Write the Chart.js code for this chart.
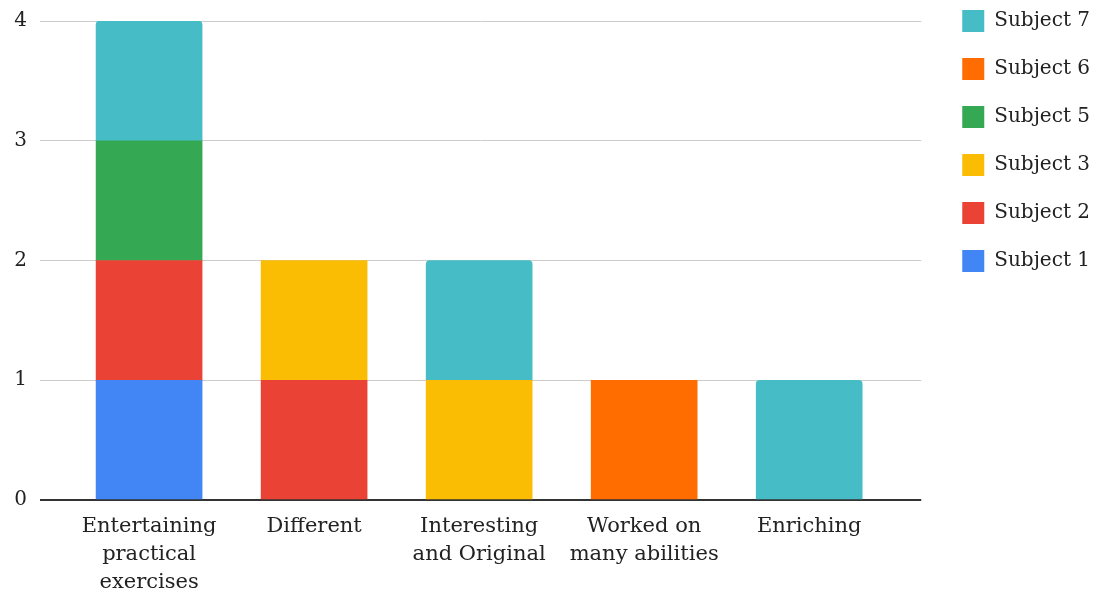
<!DOCTYPE html>
<html>
<head>
<meta charset="utf-8">
<script src="https://cdn.jsdelivr.net/npm/chart.js@4"></script>
<style>
  html, body { margin: 0; padding: 0; background: #fff; }
  #wrap { width: 1103px; height: 595px; }
</style>
</head>
<body>
<div id="wrap"><canvas id="feedback"></canvas></div>
<script>
// categories (multi-line labels) and per-subject counts
const categories = [
    ['Entertaining', 'practical', 'exercises'],
    ['Different'],
    ['Interesting', 'and Original'],
    ['Worked on', 'many abilities'],
    ['Enriching']
];
const subject1 = [1, null, null, null, null];
const subject2 = [1, 1, null, null, null];
const subject3 = [null, 1, 1, null, null];
const subject5 = [1, null, null, null, null];
const subject6 = [null, null, null, 1, null];
const subject7 = [1, null, 1, null, 1];
const yTicks = [0, 1, 2, 3, 4];

const FONT = "'DejaVu Serif', serif";

function pts(arr){
    let out = [];
    for(let i=0; i<arr.length; i++){
        if(arr[i] != null) out.push({x: i, y: arr[i]});
    }
    return out;
}

function series(label, arr, color, top){
    return {
        label: label,
        data: pts(arr),
        backgroundColor: color,
        borderWidth: 0,
        borderSkipped: false,
        borderRadius: top ? {topLeft: 4, topRight: 4, bottomLeft: 0, bottomRight: 0} : 0,
        barThickness: 106
    };
}

// move the legend up to the canvas top and a little to the right
const legendShift = {
    id: 'legendShift',
    afterLayout: function(chart){
        let lg = chart.legend;
        lg.top -= 37;
        lg.bottom -= 37;
        lg.left += 15;
        lg.right += 15;
    }
};

let ctx = document.getElementById('feedback');
let chart = new Chart(ctx, {
    type: 'bar',
    plugins: [legendShift],
    data: {
        datasets: [
            series('Subject 1', subject1, '#4285F4'),
            series('Subject 2', subject2, '#EA4335'),
            series('Subject 3', subject3, '#FBBC04'),
            series('Subject 5', subject5, '#34A853'),
            series('Subject 6', subject6, '#FF6D01'),
            series('Subject 7', subject7, '#46BDC6', true)
        ]
    },
    options: {
        responsive: true,
        maintainAspectRatio: false,
        animation: false,
        layout: { padding: { top: 21, right: 18, left: 0, bottom: 0 } },
        plugins: {
            tooltip: { enabled: false },
            legend: {
                position: 'right',
                align: 'start',
                reverse: true,
                labels: {
                    boxWidth: 22,
                    boxHeight: 22,
                    padding: 26,
                    color: '#222',
                    font: { family: FONT, size: 20 }
                }
            }
        },
        scales: {
            x: {
                type: 'linear',
                stacked: true,
                min: -0.661,
                max: 4.679,
                offset: false,
                grid: { display: false },
                border: { display: false },
                afterBuildTicks: function(scale){
                    scale.ticks = categories.map((c, i) => ({value: i}));
                },
                afterFit: function(scale){ scale.height = 95; },
                ticks: {
                    autoSkip: false,
                    maxRotation: 0,
                    padding: 5,
                    color: '#222',
                    font: { family: FONT, size: 21, lineHeight: 1.333 },
                    callback: function(v){ return categories[v]; }
                }
            },
            y: {
                stacked: true,
                min: 0,
                max: 4,
                afterBuildTicks: function(scale){
                    scale.ticks = yTicks.map(v => ({value: v}));
                },
                afterFit: function(scale){
                    scale.width = 40;
                    scale.paddingTop = 0;
                },
                border: { display: false },
                grid: {
                    drawTicks: false,
                    color: c => c.tick.value === 0 ? '#333' : '#ccc',
                    lineWidth: c => c.tick.value === 0 ? 2 : 1
                },
                ticks: {
                    padding: 13,
                    color: '#222',
                    font: { family: FONT, size: 20 }
                }
            }
        }
    }
});
</script>
</body>
</html>
